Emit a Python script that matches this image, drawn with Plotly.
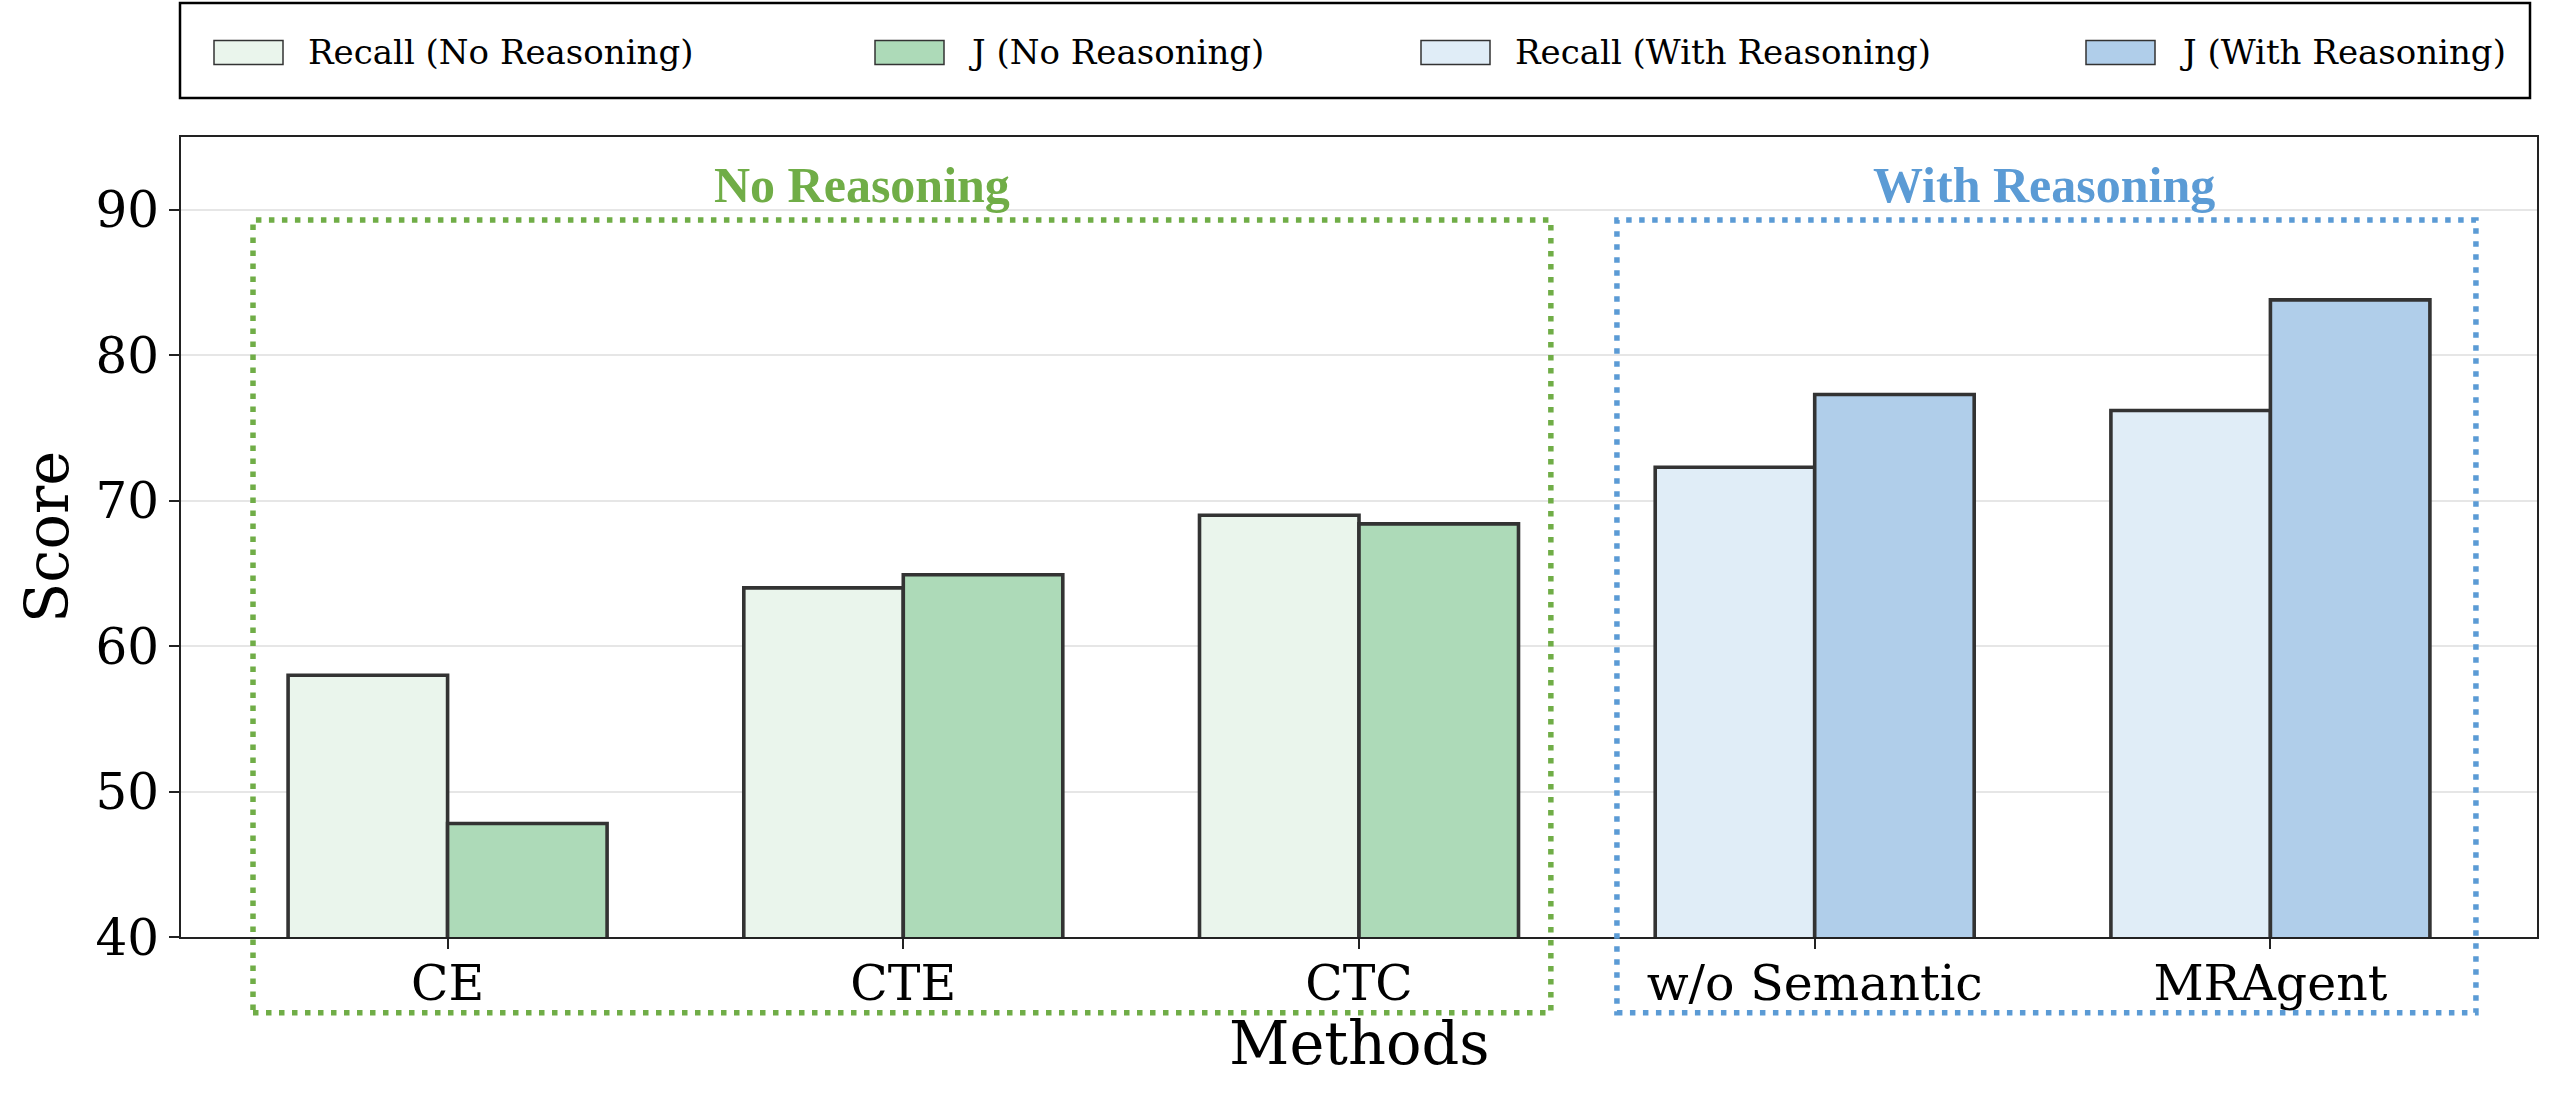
import plotly.graph_objects as go

# ---------------- data ----------------
methods = ["CE", "CTE", "CTC", "w/o Semantic", "MRAgent"]
no_reason_methods = ["CE", "CTE", "CTC"]
with_reason_methods = ["w/o Semantic", "MRAgent"]
recall_no_reasoning = [58.0, 64.0, 69.0]
j_no_reasoning = [47.8, 64.9, 68.4]
recall_with_reasoning = [72.3, 76.2]
j_with_reasoning = [77.3, 83.8]
y_ticks = [40, 50, 60, 70, 80, 90]
series_names = ["Recall (No Reasoning)", "J (No Reasoning)",
                "Recall (With Reasoning)", "J (With Reasoning)"]

# ---------------- style ----------------
W, H = 2560, 1096
ML, MR, MT, MB = 181, 23, 137, 159
PW, PH = W - ML - MR, H - MT - MB
XR = [-0.585, 4.585]
YR = [40, 95]
BAR_W = 0.35
EDGE = "#333333"
colors = ["#EAF5EC", "#ADDAB8", "#E0EDF7", "#B0CEEA"]
GREEN = "#70AD47"
BLUE = "#5B9BD5"
SERIF = "DejaVu Serif"

fig = go.Figure()

def add_bar(x, y, name, color, offset):
    fig.add_trace(go.Bar(
        x=x, y=y, name=name, offset=offset, width=BAR_W,
        marker=dict(color=color, line=dict(color=EDGE, width=3.6)),
        showlegend=False,
    ))

add_bar(no_reason_methods, recall_no_reasoning, series_names[0], colors[0], -BAR_W)
add_bar(no_reason_methods, j_no_reasoning, series_names[1], colors[1], 0)
add_bar(with_reason_methods, recall_with_reasoning, series_names[2], colors[2], -BAR_W)
add_bar(with_reason_methods, j_with_reasoning, series_names[3], colors[3], 0)

def pxd(x):
    return (x - XR[0]) / (XR[1] - XR[0])

def pyd(y):
    return (y - YR[0]) / (YR[1] - YR[0])

def ppx(p):  # pixel -> paper x
    return (p - ML) / PW

def ppy(p):  # pixel -> paper y
    return (H - MB - p) / PH

shapes = []
# group boxes (dotted)
for (x0, x1, col) in [(-0.427, 2.421, GREEN), (2.566, 4.451, BLUE)]:
    shapes.append(dict(type="rect", xref="paper", yref="paper",
                       x0=pxd(x0), x1=pxd(x1), y0=pyd(34.8), y1=pyd(89.3),
                       line=dict(color=col, width=5.5, dash="5.5px,7.5px"),
                       fillcolor="rgba(0,0,0,0)", layer="above"))

# manual legend
shapes.append(dict(type="rect", xref="paper", yref="paper",
                   x0=ppx(180), x1=ppx(2530), y0=ppy(98), y1=ppy(3),
                   line=dict(color="black", width=2.5), fillcolor="white", layer="above"))
swatch_left = [214, 875, 1421, 2086]
annotations = []
for i, sl in enumerate(swatch_left):
    shapes.append(dict(type="rect", xref="paper", yref="paper",
                       x0=ppx(sl), x1=ppx(sl + 69), y0=ppy(64.5), y1=ppy(40.5),
                       line=dict(color=EDGE, width=1.5), fillcolor=colors[i], layer="above"))
    annotations.append(dict(xref="paper", yref="paper", x=ppx(sl + 92), y=ppy(52),
                            text=series_names[i], showarrow=False,
                            xanchor="left", yanchor="middle",
                            font=dict(family=SERIF, size=34, color="black")))

annotations.append(dict(x=0.909, y=91.7, xref="x", yref="y", text="<b>No Reasoning</b>",
                        showarrow=False, xanchor="center", yanchor="middle",
                        font=dict(family="Liberation Serif", size=50, color=GREEN)))
annotations.append(dict(x=3.504, y=91.7, xref="x", yref="y", text="<b>With Reasoning</b>",
                        showarrow=False, xanchor="center", yanchor="middle",
                        font=dict(family="Liberation Serif", size=50, color=BLUE)))
# x-axis title
annotations.append(dict(x=0.5, y=ppy(1043), xref="paper", yref="paper", text="Methods",
                        showarrow=False, xanchor="center", yanchor="middle",
                        font=dict(family=SERIF, size=59, color="black")))

fig.update_layout(
    width=W, height=H,
    margin=dict(l=ML, r=MR, t=MT, b=MB, autoexpand=False),
    paper_bgcolor="white", plot_bgcolor="white",
    barmode="overlay",
    shapes=shapes, annotations=annotations,
    showlegend=False,
    font=dict(family=SERIF, color="black"),
)
fig.update_xaxes(
    type="category", categoryorder="array", categoryarray=methods,
    range=XR, showgrid=False, zeroline=False,
    showline=True, mirror=True, linecolor="#222222", linewidth=2,
    ticks="outside", ticklen=10, tickwidth=2, tickcolor="#222222",
    tickfont=dict(family=SERIF, size=49, color="black"),
    ticklabelstandoff=-8,
    automargin=False,
)
fig.update_yaxes(
    range=YR, tickvals=y_ticks, showgrid=True, gridcolor="#E6E6E6", gridwidth=2,
    zeroline=False, showline=True, mirror=True, linecolor="#222222", linewidth=2,
    ticks="outside", ticklen=10, tickwidth=2, tickcolor="#222222",
    tickfont=dict(family=SERIF, size=50, color="black"),
    title=dict(text="Score", font=dict(family=SERIF, size=59, color="black"), standoff=8),
    automargin=False,
)

fig.write_html("out.html")
